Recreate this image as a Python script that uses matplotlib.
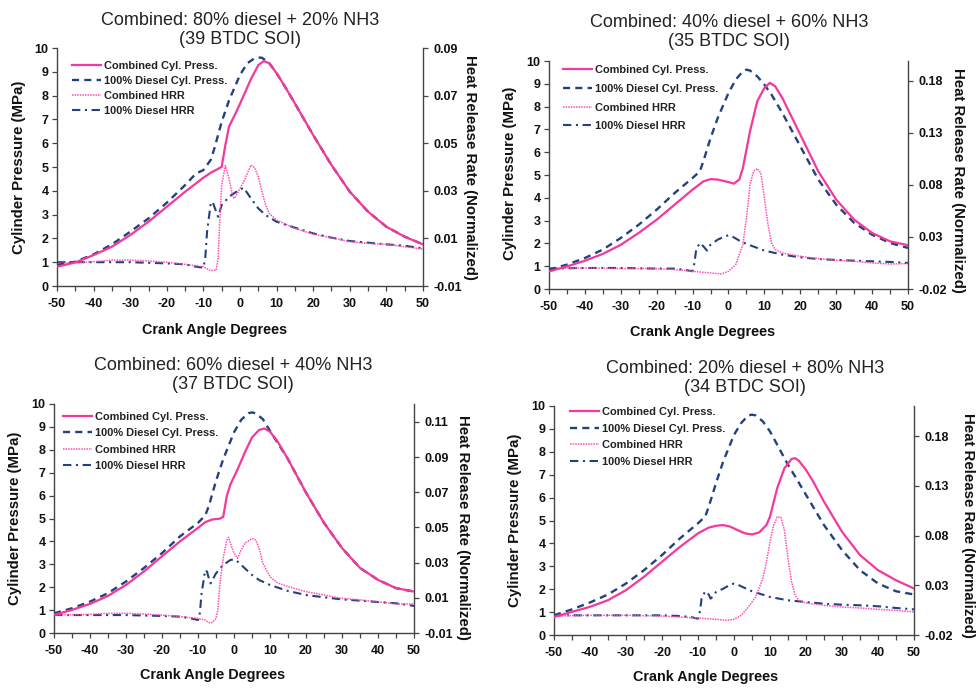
import matplotlib
matplotlib.use("Agg")
import matplotlib.pyplot as plt
from matplotlib.ticker import FixedLocator, MultipleLocator, FixedFormatter

plt.rcParams['font.family'] = ['Liberation Sans', 'DejaVu Sans']
plt.rcParams['axes.unicode_minus'] = False

PINK = '#f5389b'
PINK_DOT = '#ff4fb4'
NAVY = '#24417f'

# ---------------- Panel 1: 80% diesel + 20% NH3 (39 BTDC SOI) ----------------
p1_title = "Combined: 80% diesel + 20% NH3\n(39 BTDC SOI)"
p1_dp_x = [-50, -45, -40, -35, -30, -25, -20, -15, -12, -10, -8, -7, -5, -3, 0, 2, 4, 5, 6, 8, 10, 12, 15, 20, 25, 30, 35, 40, 45, 50]
p1_dp_y = [0.88, 1.02, 1.33, 1.75, 2.28, 2.84, 3.5, 4.24, 4.73, 4.87, 5.3, 5.78, 6.9, 7.8, 8.87, 9.36, 9.57, 9.6, 9.59, 9.36, 8.94, 8.45, 7.67, 6.34, 5.08, 3.96, 3.12, 2.49, 2.07, 1.75]
p1_cp_x = [-50, -45, -40, -35, -30, -25, -20, -15, -10, -8, -6, -5, -4, -3, -1, 1, 3, 5, 6.5, 8, 10, 12, 15, 20, 25, 30, 35, 40, 45, 50]
p1_cp_y = [0.81, 0.99, 1.3, 1.65, 2.14, 2.7, 3.33, 3.96, 4.55, 4.76, 4.92, 5.01, 5.92, 6.7, 7.32, 8.0, 8.7, 9.28, 9.45, 9.36, 8.94, 8.45, 7.67, 6.34, 5.08, 3.96, 3.12, 2.49, 2.07, 1.75]
p1_dh_x = [-50, -40, -30, -20, -15, -12, -10, -9.5, -9, -8, -7.5, -6.5, -6, -5, -3, -1, 1, 3, 5, 7, 10, 15, 20, 25, 30, 35, 40, 45, 50]
p1_dh_y = [0.0, 0.0, 0.0, -0.0005, -0.0009, -0.0019, -0.0023, 0.0016, 0.0128, 0.0247, 0.0254, 0.0212, 0.0191, 0.024, 0.0275, 0.0296, 0.0313, 0.0268, 0.0226, 0.0198, 0.017, 0.0145, 0.0121, 0.0103, 0.0089, 0.0082, 0.0075, 0.0069, 0.0058]
p1_ch_x = [-50, -40, -35, -30, -25, -20, -15, -10, -8, -6.5, -6, -5.5, -5, -4, -3, -2, -1.5, 0, 1, 3, 4, 5, 6, 7, 8, 10, 15, 20, 25, 30, 35, 40, 45, 50]
p1_ch_y = [-0.0005, 0.0002, 0.0009, 0.0009, 0.0005, 0.0, -0.0009, -0.0019, -0.0036, -0.0033, 0.0016, 0.0184, 0.0324, 0.0406, 0.0352, 0.0275, 0.0268, 0.031, 0.0338, 0.0408, 0.0397, 0.0359, 0.0296, 0.024, 0.0205, 0.0177, 0.0142, 0.0118, 0.0103, 0.0086, 0.0079, 0.0075, 0.0065, 0.0055]
p1_hrr_lim = (-0.01, 0.09)
p1_hrr_ticks = [-0.01, 0.01, 0.03, 0.05, 0.07, 0.09]
p1_hrr_labels = ["-0.01", "0.01", "0.03", "0.05", "0.07", "0.09"]

# ---------------- Panel 2: 40% diesel + 60% NH3 (35 BTDC SOI) ----------------
p2_title = "Combined: 40% diesel + 60% NH3\n(35 BTDC SOI)"
p2_dp_x = [-50, -45, -40, -35, -30, -25, -20, -15, -10, -8, -7, -5, -3, 0, 2, 4, 5, 6, 8, 10, 12, 15, 20, 25, 30, 35, 40, 45, 50]
p2_dp_y = [0.85, 1.07, 1.36, 1.73, 2.24, 2.82, 3.48, 4.21, 4.87, 5.16, 5.6, 6.62, 7.5, 8.6, 9.18, 9.55, 9.62, 9.58, 9.33, 8.96, 8.52, 7.72, 6.26, 4.8, 3.7, 2.9, 2.38, 2.02, 1.8]
p2_cp_x = [-50, -45, -40, -35, -30, -25, -20, -15, -10, -7, -5, -3, 0, 1.5, 3, 4, 6, 8, 10, 11.5, 13, 15, 20, 25, 30, 35, 40, 45, 50]
p2_cp_y = [0.77, 0.99, 1.24, 1.54, 1.94, 2.46, 3.04, 3.7, 4.36, 4.72, 4.82, 4.8, 4.69, 4.62, 4.8, 5.3, 6.92, 8.23, 8.82, 9.04, 8.89, 8.38, 6.77, 5.16, 3.92, 3.04, 2.46, 2.09, 1.92]
p2_dh_x = [-50, -40, -30, -20, -15, -12, -10, -9.5, -9, -8, -7, -6, -5, -3, -1, 0, 1, 3, 5, 10, 15, 20, 25, 30, 35, 40, 45, 50]
p2_dh_y = [-0.0004, 0.0002, 0.0002, -0.0004, -0.0004, -0.0017, -0.003, 0.005, 0.0178, 0.0242, 0.021, 0.0169, 0.0226, 0.0274, 0.0306, 0.0316, 0.0306, 0.0265, 0.0233, 0.0169, 0.013, 0.0104, 0.0088, 0.0079, 0.0072, 0.0066, 0.006, 0.005]
p2_ch_x = [-50, -40, -30, -20, -15, -10, -5, -2, 0, 2, 4, 5, 6, 7, 8, 9, 10, 11, 12, 13, 15, 20, 25, 30, 35, 40, 45, 50]
p2_ch_y = [-0.0004, 0.0002, -0.0004, -0.0004, -0.0014, -0.003, -0.0046, -0.0056, -0.003, 0.0034, 0.0226, 0.0483, 0.0803, 0.0931, 0.0957, 0.0915, 0.0675, 0.0419, 0.0242, 0.0178, 0.0146, 0.0114, 0.0092, 0.0076, 0.0066, 0.005, 0.004, 0.0044]
p2_hrr_lim = (-0.02, 0.199)
p2_hrr_ticks = [-0.02, 0.03, 0.08, 0.13, 0.18]
p2_hrr_labels = ["-0.02", "0.03", "0.08", "0.13", "0.18"]

# ---------------- Panel 3: 60% diesel + 40% NH3 (37 BTDC SOI) ----------------
p3_title = "Combined: 60% diesel + 40% NH3\n(37 BTDC SOI)"
p3_dp_x = [-50, -45, -40, -35, -30, -25, -20, -15, -10, -8, -7, -5, -3, 0, 2, 4, 5, 6, 8, 10, 15, 20, 25, 30, 35, 40, 45, 50]
p3_dp_y = [0.86, 1.08, 1.37, 1.74, 2.25, 2.84, 3.49, 4.22, 4.81, 5.13, 5.54, 6.64, 7.59, 8.76, 9.31, 9.6, 9.63, 9.6, 9.34, 8.83, 7.59, 6.13, 4.81, 3.71, 2.84, 2.32, 1.96, 1.81]
p3_cp_x = [-50, -45, -40, -35, -30, -25, -20, -15, -10, -8, -6, -4, -3, -2, -1, 1, 3, 5, 7, 8.5, 10, 12, 15, 20, 25, 30, 35, 40, 45, 50]
p3_cp_y = [0.79, 1.01, 1.27, 1.62, 2.1, 2.69, 3.35, 4.0, 4.59, 4.84, 4.96, 4.99, 5.07, 5.98, 6.49, 7.15, 7.88, 8.54, 8.87, 8.93, 8.79, 8.39, 7.59, 6.13, 4.81, 3.71, 2.84, 2.32, 1.96, 1.81]
p3_dh_x = [-50, -40, -30, -20, -15, -12, -10, -9.5, -9, -8, -7.5, -7, -6.5, -6, -5, -3, -1, 0, 1, 3, 5, 7, 10, 15, 20, 25, 30, 35, 40, 45, 50]
p3_dh_y = [0.0002, 0.0002, 0.0002, -0.0003, -0.0007, -0.0017, -0.0026, 0.0012, 0.0126, 0.0258, 0.0249, 0.0211, 0.0182, 0.0201, 0.0239, 0.0287, 0.0315, 0.0319, 0.0306, 0.0268, 0.023, 0.0201, 0.0173, 0.0139, 0.0116, 0.0103, 0.0091, 0.0084, 0.0076, 0.0069, 0.0054]
p3_ch_x = [-50, -40, -35, -30, -25, -20, -15, -10, -8, -7, -6, -5, -4.5, -4, -3, -2, -1.5, -1, 0, 1, 2, 3, 5, 6, 7, 8, 10, 12, 15, 20, 25, 30, 35, 40, 45, 50]
p3_ch_y = [0.0002, 0.0006, 0.0012, 0.0012, 0.0008, 0.0002, -0.0007, -0.0017, -0.0026, -0.0041, -0.0041, -0.0017, 0.0031, 0.0164, 0.0325, 0.0429, 0.0444, 0.041, 0.0353, 0.0325, 0.0372, 0.041, 0.0438, 0.0429, 0.0382, 0.0296, 0.022, 0.0186, 0.0164, 0.0135, 0.0116, 0.0097, 0.0088, 0.0078, 0.0065, 0.0065]
p3_hrr_lim = (-0.01, 0.1202)
p3_hrr_ticks = [-0.01, 0.01, 0.03, 0.05, 0.07, 0.09, 0.11]
p3_hrr_labels = ["-0.01", "0.01", "0.03", "0.05", "0.07", "0.09", "0.11"]

# ---------------- Panel 4: 20% diesel + 80% NH3 (34 BTDC SOI) ----------------
p4_title = "Combined: 20% diesel + 80% NH3\n(34 BTDC SOI)"
p4_dp_x = [-50, -45, -40, -35, -30, -25, -20, -15, -10, -8, -7, -5, -3, 0, 2, 4, 5, 6, 8, 10, 12, 15, 17, 20, 25, 30, 35, 40, 45, 50]
p4_dp_y = [0.86, 1.12, 1.42, 1.77, 2.25, 2.83, 3.49, 4.22, 4.88, 5.17, 5.61, 6.63, 7.58, 8.74, 9.26, 9.59, 9.62, 9.59, 9.33, 8.89, 8.31, 7.43, 6.92, 6.12, 4.8, 3.71, 2.83, 2.25, 1.91, 1.77]
p4_cp_x = [-50, -45, -40, -35, -30, -25, -20, -15, -10, -7, -5, -3, -1, 1, 3, 5, 7, 9, 10, 12, 14, 16, 17, 18, 20, 22, 25, 30, 35, 40, 45, 50]
p4_cp_y = [0.79, 1.01, 1.23, 1.52, 1.96, 2.54, 3.2, 3.85, 4.44, 4.69, 4.77, 4.8, 4.73, 4.58, 4.44, 4.39, 4.48, 4.8, 5.17, 6.41, 7.28, 7.69, 7.72, 7.61, 7.21, 6.7, 5.82, 4.51, 3.49, 2.83, 2.39, 2.03]
p4_dh_x = [-50, -40, -30, -20, -15, -12, -10, -9.5, -9, -8, -7, -6.5, -6, -5, -3, -1, 0, 1, 3, 5, 10, 15, 20, 25, 30, 35, 40, 45, 50]
p4_dh_y = [-0.0002, -0.0002, -0.0002, -0.0002, -0.0009, -0.0019, -0.0036, 0.0032, 0.0166, 0.024, 0.0206, 0.0166, 0.0183, 0.0233, 0.0266, 0.0307, 0.0317, 0.0307, 0.0273, 0.024, 0.0183, 0.0149, 0.0132, 0.0115, 0.0105, 0.0099, 0.0089, 0.0072, 0.0058]
p4_ch_x = [-50, -40, -30, -20, -15, -10, -5, -2, 0, 2, 4, 6, 8, 9, 10, 11, 12, 13, 14, 15, 16, 17, 18, 20, 25, 30, 35, 40, 45, 50]
p4_ch_y = [-0.0009, -0.0002, -0.0002, -0.0009, -0.0019, -0.0029, -0.0042, -0.0052, -0.0042, -0.0002, 0.0082, 0.0183, 0.0367, 0.0535, 0.0736, 0.0904, 0.0988, 0.0988, 0.0854, 0.0568, 0.0334, 0.0199, 0.0149, 0.0122, 0.0099, 0.0082, 0.0072, 0.0058, 0.0048, 0.0032]
p4_hrr_lim = (-0.02, 0.2105)
p4_hrr_ticks = [-0.02, 0.03, 0.08, 0.13, 0.18]
p4_hrr_labels = ["-0.02", "0.03", "0.08", "0.13", "0.18"]

legend_labels = ["Combined Cyl. Press.", "100% Diesel Cyl. Press.", "Combined HRR", "100% Diesel HRR"]
x_ticks = [-50, -40, -30, -20, -10, 0, 10, 20, 30, 40, 50]
p_ticks = [0, 1, 2, 3, 4, 5, 6, 7, 8, 9, 10]

W, H = 978, 688
fig = plt.figure(figsize=(W / 100, H / 100), dpi=100)


def fx(px):
    return px / W


def fy(py):
    return 1 - py / H


panels = [
    dict(title=p1_title, dp=(p1_dp_x, p1_dp_y), cp=(p1_cp_x, p1_cp_y), dh=(p1_dh_x, p1_dh_y), ch=(p1_ch_x, p1_ch_y),
         lim=p1_hrr_lim, ticks=p1_hrr_ticks, labels=p1_hrr_labels,
         box=(57, 423, 48, 286), title_xy=(240, 30), xl=(215, 330), yl=(19, 167), yr=(470, 167),
         leg=(72, 61), lsp=0.45),
    dict(title=p2_title, dp=(p2_dp_x, p2_dp_y), cp=(p2_cp_x, p2_cp_y), dh=(p2_dh_x, p2_dh_y), ch=(p2_ch_x, p2_ch_y),
         lim=p2_hrr_lim, ticks=p2_hrr_ticks, labels=p2_hrr_labels,
         box=(549, 908, 61, 289), title_xy=(729, 32), xl=(703, 332), yl=(510, 173), yr=(958, 180),
         leg=(563, 65), lsp=0.8),
    dict(title=p3_title, dp=(p3_dp_x, p3_dp_y), cp=(p3_cp_x, p3_cp_y), dh=(p3_dh_x, p3_dh_y), ch=(p3_ch_x, p3_ch_y),
         lim=p3_hrr_lim, ticks=p3_hrr_ticks, labels=p3_hrr_labels,
         box=(54, 414, 404, 633), title_xy=(233, 375), xl=(213, 675), yl=(15, 518), yr=(463, 527),
         leg=(63, 412), lsp=0.57),
    dict(title=p4_title, dp=(p4_dp_x, p4_dp_y), cp=(p4_cp_x, p4_cp_y), dh=(p4_dh_x, p4_dh_y), ch=(p4_ch_x, p4_ch_y),
         lim=p4_hrr_lim, ticks=p4_hrr_ticks, labels=p4_hrr_labels,
         box=(554, 914, 406, 635), title_xy=(745, 378), xl=(706, 677), yl=(515, 520), yr=(968, 525),
         leg=(570, 407), lsp=0.6),
]

for p in panels:
    l, r, t, b = p['box']
    ax = fig.add_axes([fx(l), fy(b), fx(r - l), (b - t) / H])
    ax2 = ax.twinx()
    ax.set_zorder(ax2.get_zorder() + 1)
    ax.patch.set_visible(False)

    h_cp, = ax.plot(p['cp'][0], p['cp'][1], color=PINK, lw=1.6, ls='-', zorder=4)
    h_dp, = ax.plot(p['dp'][0], p['dp'][1], color=NAVY, lw=1.7, ls=(0, (3, 2.2)), zorder=3)
    h_ch, = ax2.plot(p['ch'][0], p['ch'][1], color=PINK_DOT, lw=1.1, ls=(0, (1, 0.7)), zorder=2)
    h_dh, = ax2.plot(p['dh'][0], p['dh'][1], color=NAVY, lw=1.5, ls=(0, (4, 2.2, 1, 2.2)), zorder=1)

    ax.set_xlim(-50, 50)
    ax.set_ylim(0, 10)
    ax2.set_ylim(*p['lim'])
    ax.xaxis.set_major_locator(FixedLocator(x_ticks))
    ax.xaxis.set_minor_locator(MultipleLocator(5))
    ax.yaxis.set_major_locator(FixedLocator(p_ticks))
    ax2.yaxis.set_major_locator(FixedLocator(p['ticks']))
    ax2.yaxis.set_major_formatter(FixedFormatter(p['labels']))

    for a in (ax, ax2):
        a.spines['top'].set_visible(False)
        for s in a.spines.values():
            s.set_color('#444444')
            s.set_linewidth(1.0)
    ax.spines['right'].set_visible(False)
    ax2.spines['left'].set_visible(False)
    ax2.spines['bottom'].set_visible(False)

    ax.tick_params(axis='both', which='both', direction='out', length=3.5, width=0.9, color='#444444', pad=2.5)
    ax.tick_params(axis='x', which='major', pad=5)
    ax2.tick_params(axis='y', direction='out', length=3.5, width=0.9, color='#444444', pad=4)
    for lab in ax.get_xticklabels() + ax.get_yticklabels() + ax2.get_yticklabels():
        lab.set_fontsize(9)
        lab.set_fontweight('bold')
        lab.set_color('#111111')

    fig.text(fx(p['title_xy'][0]), fy(p['title_xy'][1]), p['title'], ha='center', va='center',
             fontsize=13, color='#222222', linespacing=1.1)
    fig.text(fx(p['xl'][0]), fy(p['xl'][1]), "Crank Angle Degrees", ha='center', va='center', color='#111111',
             fontsize=10.4, fontweight='bold')
    fig.text(fx(p['yl'][0]), fy(p['yl'][1]), "Cylinder Pressure (MPa)", ha='center', va='center',
             rotation=90, color='#111111', fontsize=10.8, fontweight='bold')
    fig.text(fx(p['yr'][0]), fy(p['yr'][1]), "Heat Release Rate (Normalized)", ha='center', va='center',
             rotation=270, color='#111111', fontsize=10.8, fontweight='bold')

    leg = ax.legend([h_cp, h_dp, h_ch, h_dh], legend_labels, loc='upper left',
                    bbox_to_anchor=(fx(p['leg'][0]), fy(p['leg'][1])), bbox_transform=fig.transFigure,
                    frameon=False, borderpad=0, borderaxespad=0, handlelength=2.6, handletextpad=0.3,
                    labelspacing=p['lsp'], prop=dict(size=7.9, weight='bold'))
    for txt in leg.get_texts():
        txt.set_color('#222222')

fig.savefig("out.png", dpi=100)
